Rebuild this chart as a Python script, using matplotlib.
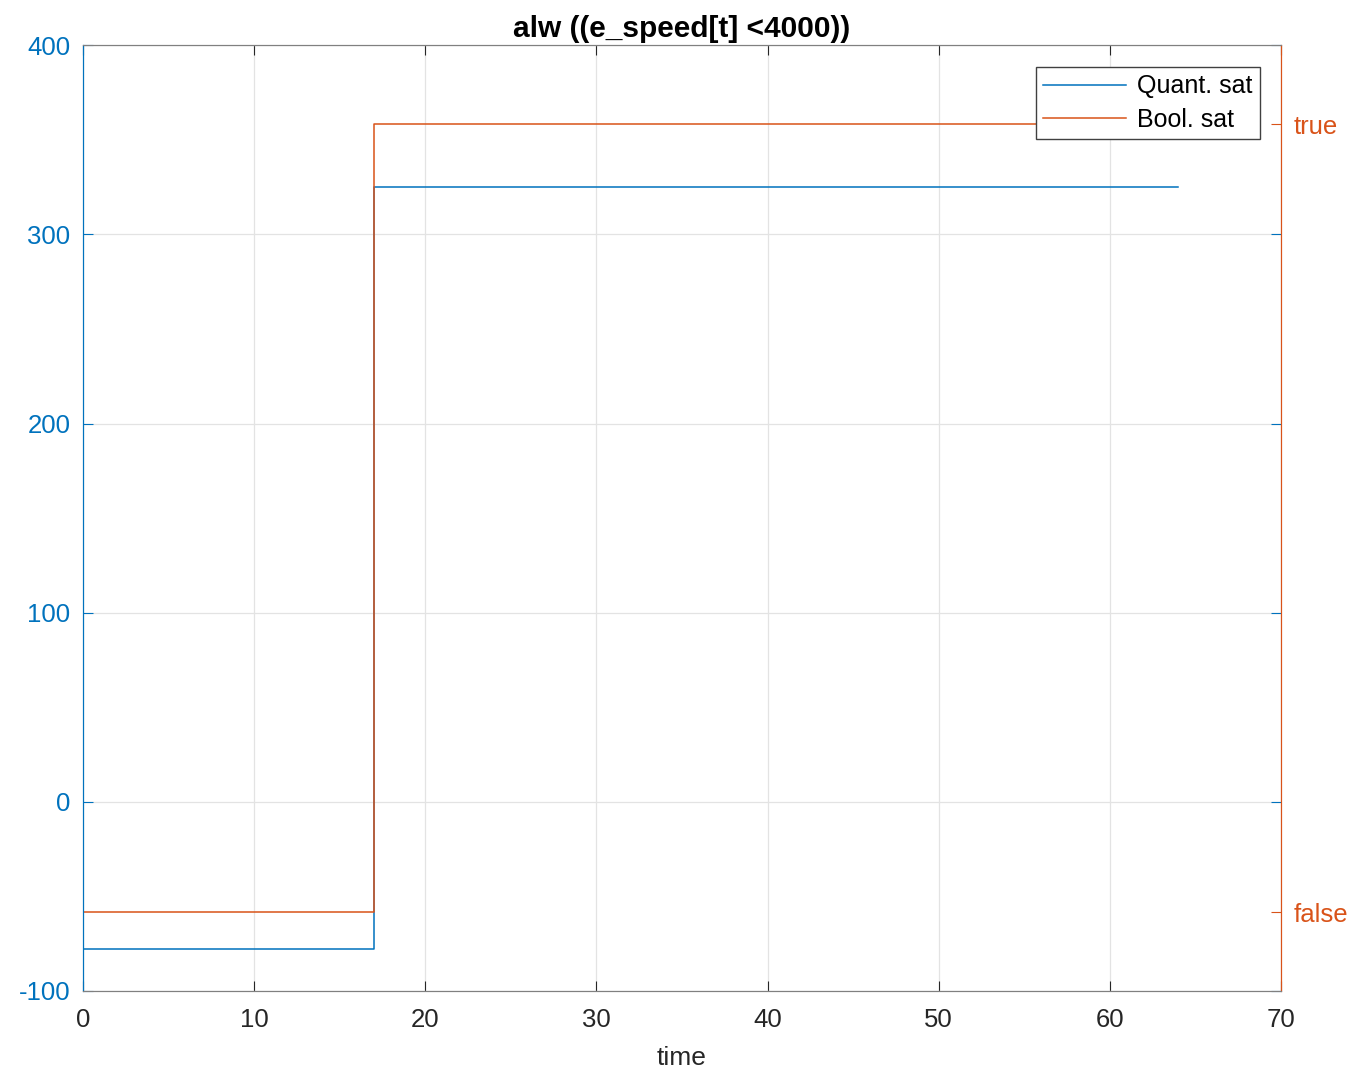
import numpy as np
import matplotlib
matplotlib.use("Agg")
import matplotlib.pyplot as plt

plt.rcParams['font.family'] = ['Liberation Sans', 'DejaVu Sans']
plt.rcParams['axes.unicode_minus'] = False

# ==========================
# DATA
# ==========================
quant_t = [0, 17, 17, 64]
quant_v = [-78, -78, 325, 325]

bool_t = [0, 17, 17, 64]
bool_v = [0, 0, 1, 1]

x_ticks = [0, 10, 20, 30, 40, 50, 60, 70]
y_ticks = [-100, 0, 100, 200, 300, 400]
bool_ticks = [0, 1]
bool_labels = ["false", "true"]

BLUE = "#0072BD"
ORANGE = "#D95319"
FS = 18.5

# ==========================
# PLOT
# ==========================
fig = plt.figure(figsize=(13.58, 10.76), dpi=100)
ax = fig.add_axes([0.0611, 0.079, 0.8822, 0.879])
ax2 = ax.twinx()

l1, = ax.plot(quant_t, quant_v, color=BLUE, lw=1.1, label="Quant. sat")
l2, = ax2.plot(bool_t, bool_v, color=ORANGE, lw=1.1, label="Bool. sat")

ax.set_xlim(0, 70)
ax.set_ylim(-100, 400)
ax2.set_ylim(-0.1, 1.1)

ax.set_xticks(x_ticks)
ax.set_yticks(y_ticks)
ax2.set_yticks(bool_ticks)
ax2.set_yticklabels(bool_labels)

ax.grid(True, color="#e3e3e3", lw=0.9)
ax.set_axisbelow(True)

ax.tick_params(axis="x", direction="in", length=7, labelsize=FS, colors="#262626",
               top=True, pad=12)
ax.tick_params(axis="y", direction="in", length=7, labelsize=FS, colors=BLUE, pad=9,
               right=True)
ax2.tick_params(axis="y", direction="in", length=7, labelsize=FS, colors=ORANGE, pad=9)

for sp in ["top", "bottom"]:
    ax2.spines[sp].set_color("#808080")
    ax.spines[sp].set_color("#808080")
ax.spines["left"].set_color(BLUE)
ax2.spines["left"].set_color(BLUE)
ax2.spines["right"].set_color(ORANGE)
ax.spines["right"].set_color(ORANGE)

ax.set_xlabel("time", fontsize=FS + 0.5, color="#262626", labelpad=10)
ax.set_title("alw ((e_speed[t] <4000))", fontsize=21.5, fontweight="bold", pad=6)

leg = ax2.legend(handles=[l1, l2], loc="upper right", fontsize=18,
                 fancybox=False, framealpha=1, edgecolor="#404040",
                 bbox_to_anchor=(0.9825, 0.977), borderaxespad=0,
                 borderpad=0.3, handlelength=3.3, labelspacing=0.38,
                 handletextpad=0.45)
leg.get_frame().set_linewidth(1.0)

fig.savefig("out.png", dpi=100)
